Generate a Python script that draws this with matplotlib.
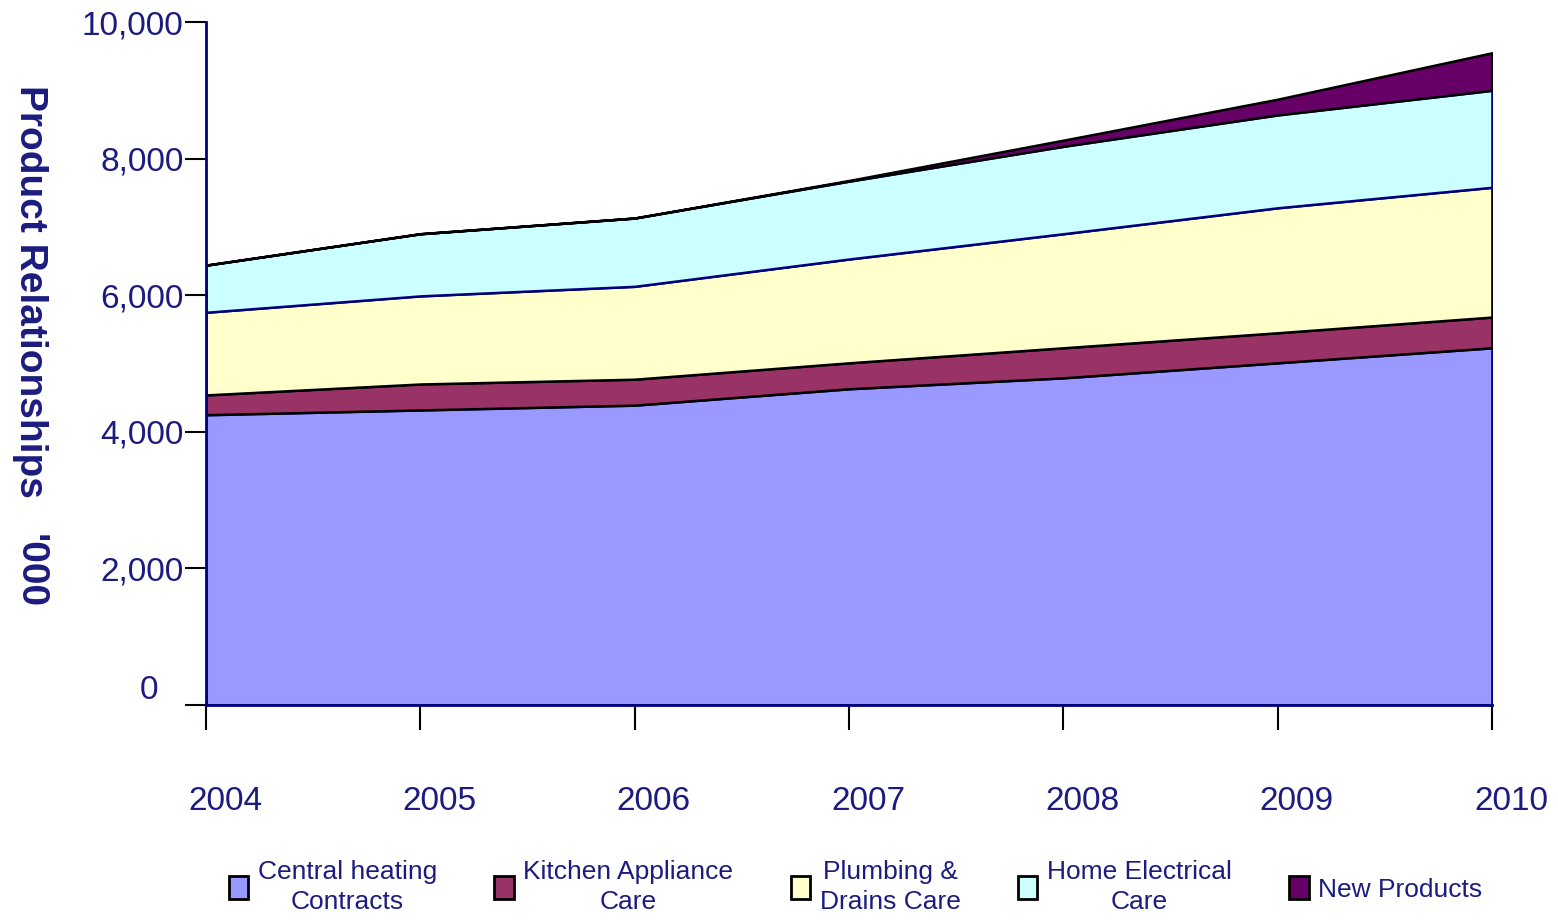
import numpy as np
import matplotlib
matplotlib.use("Agg")
import matplotlib.pyplot as plt
from matplotlib.transforms import ScaledTranslation

plt.rcParams['font.family'] = ['Liberation Sans', 'DejaVu Sans']

# Data ('000 product relationships)
years = [2004, 2005, 2006, 2007, 2008, 2009, 2010]
central_heating = [4250, 4320, 4390, 4630, 4790, 5010, 5230]
kitchen_appliance = [290, 380, 380, 380, 440, 440, 450]
plumbing_drains = [1210, 1290, 1360, 1520, 1670, 1830, 1900]
home_electrical = [690, 910, 1000, 1140, 1280, 1360, 1420]
new_products = [0, 0, 0, 10, 90, 230, 550]

labels = ['Central heating\nContracts', 'Kitchen Appliance\nCare',
          'Plumbing &\nDrains Care', 'Home Electrical\nCare', 'New Products']
colors = ['#9999FF', '#993366', '#FFFFCC', '#CCFFFF', '#660066']
edges = ['#000080', 'black', 'black', '#000080', 'black']
navy = '#1c1c80'

fig = plt.figure(figsize=(15.58, 9.22), dpi=100)
ax = fig.add_axes([0.1322, 0.2354, 0.8254, 0.7407])

polys = ax.stackplot(years, central_heating, kitchen_appliance, plumbing_drains,
                     home_electrical, new_products, colors=colors, labels=labels)
for p, ec in zip(polys, edges):
    p.set_edgecolor(ec)
    p.set_linewidth(1.8)

ax.set_xlim(2004, 2010)
ax.set_ylim(0, 10000)
ax.set_xticks(years)
ax.set_xticklabels([str(y) for y in years])
ax.set_yticks(range(0, 10001, 2000))
ax.set_yticklabels(['0', '2,000', '4,000', '6,000', '8,000', '10,000'])

for s in ['top', 'right']:
    ax.spines[s].set_visible(False)
for s in ['left', 'bottom']:
    ax.spines[s].set_color('#000080')
    ax.spines[s].set_linewidth(2)
    ax.spines[s].set_zorder(5)

ax.tick_params(axis='y', direction='out', length=15, width=1.5, color='black',
               labelsize=24, labelcolor=navy, pad=1)
ax.tick_params(axis='x', direction='out', length=18, width=1.5, color='black',
               labelsize=24, labelcolor=navy, pad=40)

# shift x labels right like the original
for lab in ax.get_xticklabels():
    lab.set_transform(lab.get_transform() + ScaledTranslation(0.19, 0, fig.dpi_scale_trans))
# the "0" label sits higher and further left
zero = ax.get_yticklabels()[0]
zero.set_transform(zero.get_transform() + ScaledTranslation(-0.25, 0.18, fig.dpi_scale_trans))

fig.text(0.0193, 0.684, "Product Relationships", rotation=270, ha='center', va='center',
         fontsize=28, fontweight='bold', color=navy)
fig.text(0.0193, 0.381, "'000", rotation=270, ha='center', va='center',
         fontsize=28, fontweight='bold', color=navy)

leg = fig.legend(handles=polys, labels=labels, loc='center', ncol=5,
                 bbox_to_anchor=(0.549, 1 - 887 / 922), frameon=False,
                 fontsize=19, handlelength=0.75, handleheight=1.0,
                 handletextpad=0.35, columnspacing=2.17)
for t in leg.get_texts():
    t.set_color(navy)
    t.set_multialignment('center')
    t.set_linespacing(1.3)
for h in leg.legend_handles:
    h.set_edgecolor('black')
    h.set_linewidth(2)

fig.savefig('out.png', dpi=100)
